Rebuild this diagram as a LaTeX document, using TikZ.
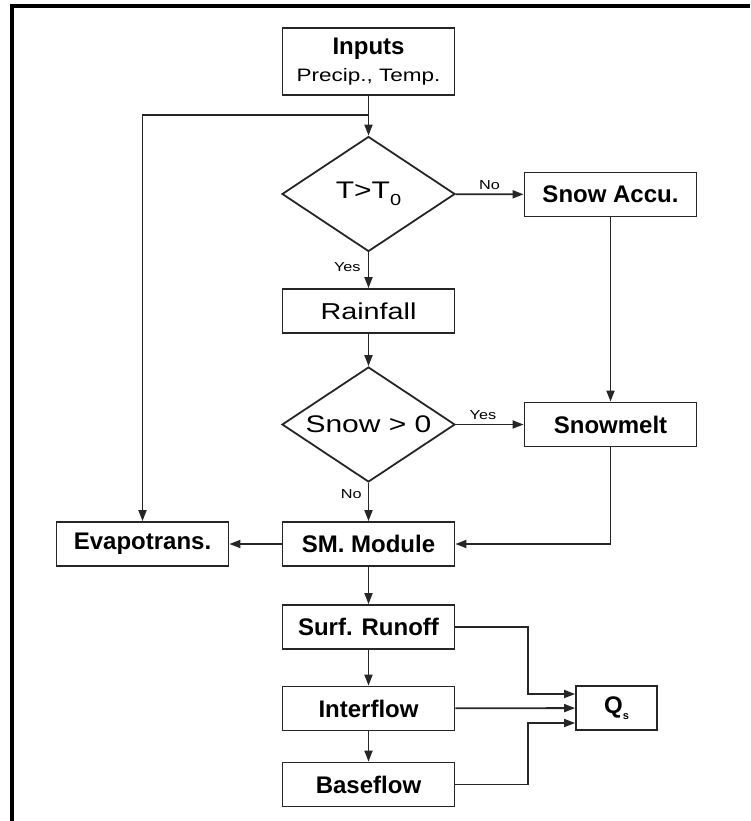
\documentclass[tikz,border=0pt]{standalone}
\usepackage{fontspec}
\setmainfont{Liberation Sans}
\newfontfamily\widefont{Liberation Sans}[FakeStretch=1.25]
\usepackage{tikz}
\usetikzlibrary{shapes.geometric, arrows.meta, positioning}

\begin{document}
\begin{tikzpicture}[x=1pt, y=-1pt]
    % Styles
    \tikzstyle{process} = [rectangle, minimum width=172pt, minimum height=44pt, inner sep=0pt, text centered, draw=black!85, line width=1.8pt, font=\fontsize{24}{28}\selectfont\bfseries]
    \tikzstyle{decision} = [diamond, aspect=1.5, minimum width=173pt, minimum height=115pt, inner sep=0pt, text centered, draw=black!85, line width=1.8pt, font=\widefont\fontsize{24}{28}\selectfont]
    \tikzstyle{arrow} = [line width=1.8pt, draw=black!85, -{Triangle[length=11pt,width=8pt]}]
    \tikzstyle{line} = [line width=1.8pt, draw=black!85]
    \tikzstyle{answer} = [font=\widefont\fontsize{13}{15}\selectfont, inner sep=1pt]

    \useasboundingbox (0,0) rectangle (750,821);
    % Frame
    \draw [line width=3.8pt] (12,821) -- (12,6) -- (750,6);

    % Nodes
    \node (inputs) [process, minimum height=67pt, align=center] at (368.5,61.5) {Inputs\\[-1pt]{\widefont\mdseries\fontsize{18}{20}\selectfont Precip., Temp.}};
    \coordinate (split) at (368.5,115);
    \node (temp) [decision] at (368.5,194) {T>T\raisebox{-7pt}{\fontsize{16}{16}\selectfont 0}};
    \node (accu) [process] at (610.5,194.5) {Snow Accu.};
    \node (rain) [process, font=\widefont\fontsize{23}{26}\selectfont] at (368.5,311) {Rainfall};
    \node (snow) [decision] at (368.5,424.5) {Snow > 0};
    \node (melt) [process] at (610.5,424.5) {Snowmelt};
    \node (sm) [process] at (368.5,544) {SM. Module};
    \node (evap) [process] at (142.5,544) {Evapotrans.};
    \node (surf) [process] at (368.5,627) {Surf. Runoff};
    \node (inter) [process] at (368.5,708.5) {Interflow};
    \node (base) [process] at (368.5,784.5) {Baseflow};
    \node (qs) [process, minimum width=81pt] at (616.5,708) {Q\raisebox{-6pt}{\fontsize{11}{11}\selectfont s}};
    \coordinate (merge) at (528,708);

    % Arrows
    \draw [line] (inputs) -- (split);
    \draw [arrow] (split) -- (temp);
    \draw [arrow] (split) -| (evap);
    \draw [arrow] (temp) -- node[answer, above=3pt] {No} (accu);
    \draw [arrow] (temp) -- node[answer, left=6pt, pos=0.4] {Yes} (rain);
    \draw [arrow] (accu) -- (melt);
    \draw [arrow] (rain) -- (snow);
    \draw [arrow] (snow) -- node[answer, above=3pt, pos=0.4] {Yes} (melt);
    \draw [arrow] (snow) -- node[answer, left=5pt, pos=0.3] {No} (sm);
    \draw [arrow] (melt) |- (sm);
    \draw [arrow] (sm) -- (evap);
    \draw [arrow] (sm) -- (surf);
    \draw [arrow] (surf) -- (inter);
    \draw [arrow] (inter) -- (base);
    \draw [arrow] (surf.east) -| ([yshift=14pt]merge) -- ([yshift=14pt]qs.west);
    \draw [arrow] (inter) -- (qs);
    \draw [arrow] (base.east) -| ([yshift=-15pt]merge) -- ([yshift=-15pt]qs.west);
\end{tikzpicture}
\end{document}
